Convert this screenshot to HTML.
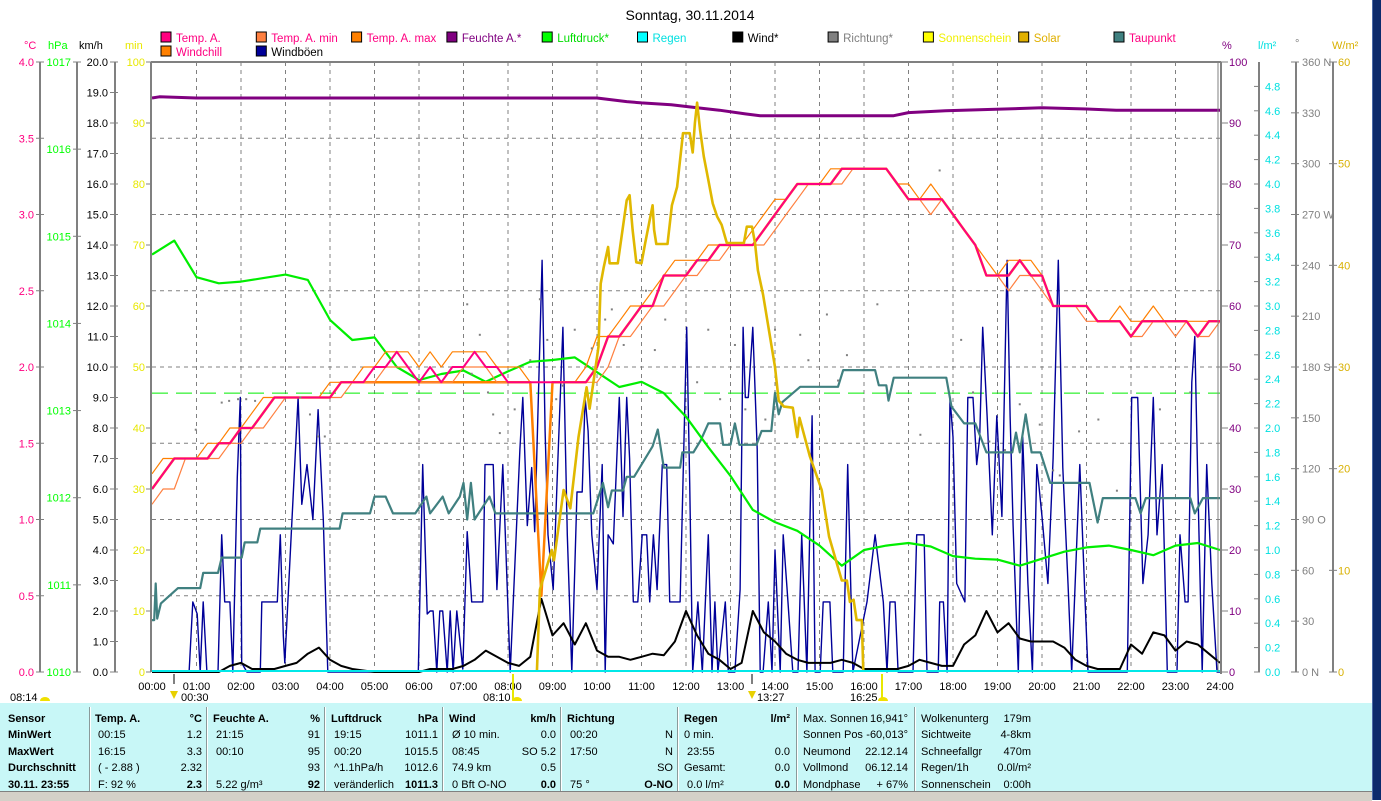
<!DOCTYPE html>
<html><head><meta charset="utf-8"><title>Sonntag, 30.11.2014</title>
<style>
html,body{margin:0;padding:0;background:#fff;}
body{width:1381px;height:800px;position:relative;overflow:hidden;font-family:"Liberation Sans",Arial,sans-serif;}
#chart{position:absolute;left:0;top:0;}
.tbl{position:absolute;left:0;top:703px;width:1372px;height:88px;background:#c8f7f7;}
.col{position:absolute;top:8px;font-size:11px;line-height:16.4px;color:#000;}
.row{display:flex;justify-content:space-between;white-space:nowrap;height:16.4px;}
.b{font-weight:bold;}
.sep{position:absolute;top:4px;width:1px;height:84px;background:#8a9a9a;border-right:1px solid #fff;}
.status{position:absolute;left:0;top:791px;width:1372px;height:9px;background:#d4d0c8;border-top:1px solid #808080;}
.strip{position:absolute;left:1372px;top:0;width:9px;height:800px;background:#0c2a6c;border-left:1px solid #4a6aa8;}
</style></head><body>
<svg id="chart" width="1381" height="800" xmlns="http://www.w3.org/2000/svg"></svg>

<div class="tbl">
  <div class="col b" style="left:8px;width:80px">
    <div class="row"><span>Sensor</span></div><div class="row"><span>MinWert</span></div><div class="row"><span>MaxWert</span></div><div class="row"><span>Durchschnitt</span></div><div class="row"><span>30.11. 23:55</span></div>
  </div>
  <div class="sep" style="left:89px"></div>
  <div class="col" style="left:95px;width:107px">
    <div class="row b"><span>Temp. A.</span><span>°C</span></div><div class="row"><span>&nbsp;00:15</span><span>1.2</span></div><div class="row"><span>&nbsp;16:15</span><span>3.3</span></div><div class="row"><span>&nbsp;( - 2.88 )</span><span>2.32</span></div><div class="row"><span>&nbsp;F: 92 %</span><span class="b">2.3</span></div>
  </div>
  <div class="sep" style="left:206px"></div>
  <div class="col" style="left:213px;width:107px">
    <div class="row b"><span>Feuchte A.</span><span>%</span></div><div class="row"><span>&nbsp;21:15</span><span>91</span></div><div class="row"><span>&nbsp;00:10</span><span>95</span></div><div class="row"><span></span><span>93</span></div><div class="row"><span>&nbsp;5.22 g/m³</span><span class="b">92</span></div>
  </div>
  <div class="sep" style="left:324px"></div>
  <div class="col" style="left:331px;width:107px">
    <div class="row b"><span>Luftdruck</span><span>hPa</span></div><div class="row"><span>&nbsp;19:15</span><span>1011.1</span></div><div class="row"><span>&nbsp;00:20</span><span>1015.5</span></div><div class="row"><span>&nbsp;^1.1hPa/h</span><span>1012.6</span></div><div class="row"><span>&nbsp;veränderlich</span><span class="b">1011.3</span></div>
  </div>
  <div class="sep" style="left:442px"></div>
  <div class="col" style="left:449px;width:107px">
    <div class="row b"><span>Wind</span><span>km/h</span></div><div class="row"><span>&nbsp;Ø 10 min.</span><span>0.0</span></div><div class="row"><span>&nbsp;08:45</span><span>SO 5.2</span></div><div class="row"><span>&nbsp;74.9 km</span><span>0.5</span></div><div class="row"><span>&nbsp;0 Bft O-NO</span><span class="b">0.0</span></div>
  </div>
  <div class="sep" style="left:560px"></div>
  <div class="col" style="left:567px;width:106px">
    <div class="row b"><span>Richtung</span><span></span></div><div class="row"><span>&nbsp;00:20</span><span>N</span></div><div class="row"><span>&nbsp;17:50</span><span>N</span></div><div class="row"><span></span><span>SO</span></div><div class="row"><span>&nbsp;75 °</span><span class="b">O-NO</span></div>
  </div>
  <div class="sep" style="left:677px"></div>
  <div class="col" style="left:684px;width:106px">
    <div class="row b"><span>Regen</span><span>l/m²</span></div><div class="row"><span>0 min.</span><span></span></div><div class="row"><span>&nbsp;23:55</span><span>0.0</span></div><div class="row"><span>Gesamt:</span><span>0.0</span></div><div class="row"><span>&nbsp;0.0 l/m²</span><span class="b">0.0</span></div>
  </div>
  <div class="sep" style="left:796px"></div>
  <div class="col" style="left:803px;width:105px">
    <div class="row"><span>Max. Sonnen</span><span>16,941°</span></div><div class="row"><span>Sonnen Pos</span><span>-60,013°</span></div><div class="row"><span>Neumond</span><span>22.12.14</span></div><div class="row"><span>Vollmond</span><span>06.12.14</span></div><div class="row"><span>Mondphase</span><span>+ 67%</span></div>
  </div>
  <div class="sep" style="left:914px"></div>
  <div class="col" style="left:921px;width:110px">
    <div class="row"><span>Wolkenunterg</span><span>179m</span></div><div class="row"><span>Sichtweite</span><span>4-8km</span></div><div class="row"><span>Schneefallgr</span><span>470m</span></div><div class="row"><span>Regen/1h</span><span>0.0l/m²</span></div><div class="row"><span>Sonnenschein</span><span>0:00h</span></div>
  </div>
</div>
<div class="status"></div>
<div class="strip"></div>

<script>
// ---------- data ----------
const quarterTemp = [1.2,1.3,1.4,1.4, 1.4,1.4,1.5,1.5, 1.6,1.6,1.7,1.8, 1.8,1.8,1.8,1.8, 1.8,1.9,1.9,1.9, 2.0,2.0,2.1,2.0, 1.9,2.0,1.9,2.0, 2.0,2.1,2.0,2.0, 1.9,1.9,1.9,1.9, 1.9,1.9,1.9,1.9, 2.0,2.2,2.2,2.3, 2.4,2.4,2.6,2.6, 2.6,2.7,2.7,2.8, 2.8,2.8,2.8,2.9, 3.0,3.1,3.2,3.2, 3.2,3.2,3.3,3.3, 3.3,3.3,3.3,3.2, 3.1,3.1,3.1,3.1, 3.0,2.9,2.8,2.6, 2.6,2.6,2.7,2.6, 2.6,2.4,2.4,2.4, 2.4,2.3,2.3,2.3, 2.2,2.3,2.3,2.3, 2.3,2.3,2.2,2.3, 2.3];
const quarterTempMin = [1.1,1.2,1.2,1.4, 1.4,1.4,1.4,1.5, 1.5,1.6,1.6,1.7, 1.8,1.8,1.8,1.8, 1.8,1.8,1.9,1.9, 1.9,2.0,2.0,2.0, 1.9,1.9,1.9,1.9, 2.0,2.0,2.0,1.9, 1.9,1.9,1.9,1.9, 1.9,1.9,1.9,1.9, 1.9,2.0,2.2,2.2, 2.3,2.4,2.4,2.5, 2.6,2.6,2.7,2.7, 2.8,2.8,2.8,2.8, 2.9,3.0,3.1,3.2, 3.2,3.2,3.2,3.3, 3.3,3.3,3.3,3.2, 3.1,3.1,3.0,3.1, 3.0,2.9,2.8,2.6, 2.6,2.5,2.6,2.6, 2.5,2.4,2.4,2.4, 2.3,2.3,2.3,2.3, 2.2,2.2,2.3,2.3, 2.2,2.3,2.2,2.2, 2.3];
const quarterTempMax = [1.3,1.4,1.4,1.4, 1.4,1.5,1.5,1.6, 1.6,1.7,1.8,1.8, 1.8,1.8,1.8,1.8, 1.9,1.9,1.9,2.0, 2.0,2.1,2.1,2.1, 2.0,2.1,2.0,2.1, 2.1,2.1,2.1,2.0, 2.0,2.0,1.9,1.9, 1.9,1.9,1.9,2.0, 2.2,2.2,2.3,2.4, 2.4,2.5,2.6,2.7, 2.7,2.7,2.8,2.8, 2.8,2.8,2.9,3.0, 3.1,3.1,3.2,3.2, 3.2,3.3,3.3,3.3, 3.3,3.3,3.3,3.2, 3.2,3.1,3.2,3.1, 3.0,2.9,2.8,2.7, 2.6,2.7,2.7,2.7, 2.6,2.4,2.4,2.4, 2.4,2.3,2.3,2.4, 2.3,2.3,2.4,2.3, 2.3,2.3,2.3,2.3, 2.3];
const quarterWindchill = [1.2,1.3,1.4,1.4, 1.4,1.4,1.5,1.5, 1.6,1.6,1.7,1.8, 1.8,1.8,1.8,1.8, 1.8,1.9,1.9,1.9, 1.9,1.9,1.9,1.9, 1.9,1.9,1.9,1.9, 1.9,1.9,1.9,1.9, 1.9,1.9,1.9,0.5, 1.9,1.9,1.9,1.9, 2.0,2.2,2.2,2.3, 2.4,2.4,2.6,2.6, 2.6,2.7,2.7,2.8, 2.8,2.8,2.8,2.9, 3.0,3.1,3.2,3.2, 3.2,3.2,3.3,3.3, 3.3,3.3,3.3,3.2, 3.1,3.1,3.1,3.1, 3.0,2.9,2.8,2.6, 2.6,2.6,2.7,2.6, 2.6,2.4,2.4,2.4, 2.4,2.3,2.3,2.3, 2.2,2.3,2.3,2.3, 2.3,2.3,2.2,2.3, 2.3];
const quarterWind = [0,0,0,0, 0,0,0,0.2, 0.3,0.1,0.1,0.1, 0.2,0.3,0.6,0.8, 0.4,0.2,0.1,0.05, 0,0,0,0, 0,0.1,0.1,0.1, 0.2,0.4,0.7,0.5, 0.3,0.2,0.5,2.4, 1.2,1.6,0.9,1.6, 0.7,0.5,0.5,0.4, 0.5,0.6,0.55,1.0, 2.0,1.2,0.6,0.4, 0.1,0.3,2.0,1.3, 1.0,0.6,0.4,0.3, 0.3,0.3,0.4,0.3, 0.1,0.1,0.1,0.1, 0.2,0.4,0.3,0.2, 0.2,0.9,1.2,2.0, 1.3,1.6,1.1,1.0, 1.0,1.0,0.8,0.4, 0.2,0.1,0.1,0.1, 0.9,0.6,1.3,1.2, 0.7,1.0,0.9,0.6, 0.3];
const halfHourPressure = [1014.79,1014.95,1014.53,1014.46,1014.48,1014.52,1014.56,1014.50,1014.04,1013.81,1013.84,1013.50,1013.35,1013.42,1013.46,1013.33,1013.45,1013.56,1013.58,1013.61,1013.44,1013.27,1013.33,1013.20,1012.93,1012.58,1012.25,1011.86,1011.72,1011.62,1011.45,1011.22,1011.40,1011.45,1011.48,1011.44,1011.33,1011.30,1011.29,1011.22,1011.30,1011.38,1011.43,1011.45,1011.40,1011.34,1011.45,1011.48,1011.40];
const refPressure = 1013.2;
const humTimes = [0,10,60,600,640,660,700,735,765,800,820,1000,1020,1070,1200,1260,1300,1440];
const humValues = [94.1,94.3,94.1,94.1,93.5,93.3,93.0,92.5,92.1,91.5,91.2,91.2,91.7,92.0,92.5,92.3,92.1,92.1];
const dewTimes = [0,3,5,7,12,35,65,69,89,94,121,125,142,146,253,257,294,300,315,325,355,370,375,392,400,415,420,425,430,435,455,463,595,608,615,620,635,640,650,675,682,690,712,715,730,740,750,766,770,780,786,792,815,822,835,840,845,850,874,925,932,975,980,990,993,1000,1071,1078,1095,1110,1125,1160,1165,1170,1178,1186,1198,1211,1264,1275,1282,1326,1333,1340,1400,1406,1417,1440];
const dewValues = [.34,.34,.58,.35,.45,.55,.55,.65,.65,.75,.75,.85,.85,.94,.94,1.04,1.04,1.15,1.15,1.04,1.04,1.15,1.04,1.15,1.04,1.15,1.24,1.00,1.24,1.00,1.15,1.04,1.04,1.24,1.08,1.19,1.19,1.28,1.28,1.48,1.59,1.34,1.34,1.44,1.44,1.52,1.63,1.63,1.49,1.49,1.63,1.49,1.49,1.58,1.58,1.83,1.69,1.77,1.87,1.87,1.98,1.98,1.88,1.88,1.78,1.93,1.93,1.74,1.63,1.63,1.44,1.44,1.57,1.44,1.69,1.44,1.44,1.24,1.24,0.98,1.14,1.14,1.04,1.14,1.14,1.04,1.14,1.14];
const solarTimes = [519,523,539,542,555,564,575,586,590,602,605,609,615,617,628,640,644,648,653,660,665,675,677,680,695,701,708,716,725,729,732,735,739,744,750,756,762,768,775,798,802,809,813,817,824,840,845,852,864,870,873,887,903,913,930,937,941,946,950,957,959];
const solarValues = [0,8.1,12.0,11.0,17.9,16.1,23.1,28.0,25.9,32.0,38.2,39.8,41.8,40.2,40.2,46.4,46.9,43.5,40.3,40.2,42.2,45.9,43.5,42.1,42.1,45.9,47.7,53.0,53.0,51.1,54.0,56.0,53.3,50.7,48.4,46.1,44.8,44.0,42.2,42.2,43.8,43.8,42.2,39.5,37.1,30.0,26.7,26.1,26.0,23.1,25.0,21.2,17.9,13.3,9.0,9.0,6.9,7.1,5.1,5.1,0];
const gustTimes = [0,50,55,61,65,69,74,89,94,98,105,109,115,119,121,128,146,148,169,173,177,179,197,202,209,217,224,231,237,359,365,371,375,379,384,388,392,398,402,406,411,419,425,431,446,449,460,465,473,479,483,496,500,506,512,516,526,530,534,541,547,554,560,566,573,580,584,588,593,600,607,611,615,622,630,635,640,644,649,655,661,667,671,676,681,688,694,698,712,721,725,729,736,742,750,755,759,763,773,777,786,793,797,800,804,810,816,820,824,831,836,840,847,851,856,864,871,876,883,890,894,901,905,914,918,932,938,945,964,975,986,991,995,1002,1006,1026,1031,1041,1045,1060,1062,1067,1072,1076,1080,1085,1096,1100,1107,1112,1116,1120,1126,1133,1139,1146,1153,1157,1161,1168,1174,1181,1187,1193,1200,1208,1215,1222,1228,1235,1240,1251,1258,1262,1315,1321,1329,1336,1343,1350,1355,1362,1369,1382,1386,1393,1397,1402,1406,1410,1416,1422,1429,1436,1440];
const gustValues = [0,0,2.3,1.9,0,2.3,0,0,4.5,2.3,2.3,0,6.4,9.0,0.3,0,0,2.3,2.3,4.5,1.2,0.3,9.0,5.5,6.8,5.0,8.6,5.0,0,0,6.8,1.9,2.0,2.0,0,2.0,2.0,0,2.0,0,2.0,0.1,4.6,2.3,2.3,6.8,6.8,2.7,6.8,2.7,0,7.3,9.0,4.8,6.7,4.6,13.5,7.9,4.5,2.7,6.8,11.3,4.5,0,5.9,5.9,9.0,7.9,4.5,2.7,6.8,0,4.5,4.2,9.0,5.1,9.0,7.0,2.3,2.3,4.5,4.5,2.3,4.5,2.7,6.8,6.8,2.3,2.3,11.3,6.2,0,2.3,0,4.5,0,2.3,0,2.3,0,0,2.7,11.3,9.0,9.0,11.3,7.3,0,0,2.3,0,4.0,0,4.5,2.8,0,0,4.5,0,8.4,0,0,2.3,2.3,0,0,6.8,0,2.3,4.5,2.3,0,2.3,2.3,0,0,4.5,4.5,0,0,2.3,2.3,0,9.0,7.7,2.9,2.3,9.0,9.0,6.8,7.7,11.3,8.4,4.5,8.4,5.1,13.5,8.4,4.8,0,7.7,2.9,0,6.8,5.1,2.9,7.0,13.5,6.7,2.9,0,6.8,2.4,0,0,9.0,9.0,2.9,4.5,9.0,4.5,6.8,0,0,4.5,2.3,2.3,9.5,11.0,6.2,0,6.8,2.9,0,0];
const dirTimes = [59,94,104,116,127,139,200,213,224,233,425,431,442,453,460,469,489,510,523,533,545,554,570,593,611,620,636,658,666,678,692,735,739,750,766,786,800,827,840,874,885,910,925,937,978,1036,1062,1091,1107,1129,1150,1170,1197,1215,1224,1250,1276,1301,1359,1400];
const dirValues = [143,159,160,161,161,160,162,152,139,139,217,176,199,165,152,141,155,184,220,196,161,169,202,191,208,214,193,243,225,190,208,171,243,202,161,193,155,149,202,199,184,211,172,187,217,140,296,196,165,136,131,158,146,119,116,142,149,107,155,165];
const hourLabels = ['00:00','01:00','02:00','03:00','04:00','05:00','06:00','07:00','08:00','09:00','10:00','11:00','12:00','13:00','14:00','15:00','16:00','17:00','18:00','19:00','20:00','21:00','22:00','23:00','24:00'];
const tempTicks = ['0.0','0.5','1.0','1.5','2.0','2.5','3.0','3.5','4.0'];
const hpaTicks = ['1010','1011','1012','1013','1014','1015','1016','1017'];
const kmhTicks = ['0.0','1.0','2.0','3.0','4.0','5.0','6.0','7.0','8.0','9.0','10.0','11.0','12.0','13.0','14.0','15.0','16.0','17.0','18.0','19.0','20.0'];
const minTicks = ['0','10','20','30','40','50','60','70','80','90','100'];
const pctTicks = ['0','10','20','30','40','50','60','70','80','90','100'];
const rainTicks = ['0.0','0.2','0.4','0.6','0.8','1.0','1.2','1.4','1.6','1.8','2.0','2.2','2.4','2.6','2.8','3.0','3.2','3.4','3.6','3.8','4.0','4.2','4.4','4.6','4.8'];
const degTicks = ['0 N','30','60','90 O','120','150','180 S','210','240','270 W','300','330','360 N'];
const wTicks = ['0','10','20','30','40','50','60'];

// ---------- scales ----------
const L=152, R=1220, T=62, B=672, H=B-T;
const X = m => L + m/1440*(R-L);
const yT = v => B - v/4*H;
const yP = v => B - (v-1010)/7*H;
const yK = v => B - v/20*H;
const yH = v => B - v/100*H;
const yW = v => B - v/60*H;
const yD = v => B - v/360*H;
const yR = v => B - v/5*H;

const NS='http://www.w3.org/2000/svg';
const svg=document.getElementById('chart');
function mk(tag, attrs, name){
  const el=document.createElementNS(NS,tag);
  for(const k in attrs) el.setAttribute(k,attrs[k]);
  
  
  svg.appendChild(el);
  return el;
}
function txt(x,y,s,fill,anchor,name,size,weight){
  const t=mk('text',{x:x,y:y,fill:fill,'text-anchor':anchor||'start','font-size':size||11,'font-family':'Liberation Sans, Arial, sans-serif','font-weight':weight||'normal'},name);
  t.textContent=s;
  return t;
}
function line(x1,y1,x2,y2,stroke,w,name,dash){
  const a={x1:x1,y1:y1,x2:x2,y2:y2,stroke:stroke,'stroke-width':w||1};
  if(dash) a['stroke-dasharray']=dash;
  return mk('line',a,name);
}
function poly(times,vals,yf,stroke,w,name){
  const pts=times.map((t,i)=>X(t).toFixed(1)+','+yf(vals[i]).toFixed(1)).join(' ');
  return mk('polyline',{points:pts,fill:'none',stroke:stroke,'stroke-width':w,'stroke-linejoin':'round'},name);
}
const q = quarterTemp.map((_,i)=>i*15);
const hh = halfHourPressure.map((_,i)=>i*30);

// title
txt(690,20,'Sonntag, 30.11.2014','#000','middle','chart-title',14);

// legend
const legNames=['Temp. A.','Temp. A. min','Temp. A. max','Feuchte A.*','Luftdruck*','Regen','Wind*','Richtung*','Sonnenschein','Solar','Taupunkt','Windchill','Windböen'];
const legFill=['#ff0080','#ff8040','#ff8000','#800080','#00ff00','#00ffff','#000000','#808080','#ffff00','#e0b000','#408080','#ff8000','#000099'];
const legText=['#ff0080','#ff0080','#ff0080','#800080','#00dd00','#00e0e0','#000000','#808080','#f0f000','#e0b000','#ff0080','#ff0080','#000000'];
legNames.forEach((n,i)=>{
  const row=i<11?0:1, col=i<11?i:i-11;
  const x=161+col*95.3, y=row?46:32;
  const r=mk('rect',{x:x,y:y,width:10,height:10,fill:legFill[i],stroke:'#000','stroke-width':1},'legend-swatch');
  
  const t=txt(x+15,y+10,n,legText[i],'start','legend-entry',11.5);
  
});

// axis headers
txt(24,49,'°C','#ff0080','start','temp-axis-title');
txt(48,49,'hPa','#00ff00','start','pressure-axis-title');
txt(79,49,'km/h','#000','start','wind-axis-title');
txt(125,49,'min','#e8e800','start','minutes-axis-title');
txt(1222,49,'%','#800080','start','humidity-axis-title');
txt(1258,49,'l/m²','#00e0e0','start','rain-axis-title');
txt(1295,47,'°','#808080','start','direction-axis-title');
txt(1332,49,'W/m²','#d8b000','start','solar-axis-title');

// grid
for(let h=1;h<24;h++) line(X(h*60),T,X(h*60),B,'#808080',1,'hour-gridline','4,4');
for(let k=1;k<8;k++) line(L,T+k*H/8,R,T+k*H/8,'#808080',1,'horizontal-gridline','4,4');
line(L,yP(refPressure),R,yP(refPressure),'#00ee00',1,'reference-pressure-line','16,8');

// left axes
line(40,T,40,B,'#808080',2,'temp-axis-line');
tempTicks.forEach((s,i)=>{const y=yT(i*0.5);line(36,y,44,y,'#808080',1,'temp-tick');txt(34,y+4,s,'#ff0080','end','temp-tick-label');});
line(77,T,77,B,'#808080',2,'pressure-axis-line');
hpaTicks.forEach((s,i)=>{const y=yP(1010+i);line(73,y,81,y,'#808080',1,'pressure-tick');txt(71,y+4,s,'#00ff00','end','pressure-tick-label');});
line(115,T,115,B,'#808080',2,'wind-axis-line');
kmhTicks.forEach((s,i)=>{const y=yK(i);line(110,y,118,y,'#808080',1,'wind-tick');txt(108,y+4,s,'#000','end','wind-tick-label');});
minTicks.forEach((s,i)=>{const y=B-i*H/10;line(146,y,151,y,'#808080',1,'minutes-tick');txt(145,y+4,s,'#e8e800','end','minutes-tick-label');});

// right axes
pctTicks.forEach((s,i)=>{const y=yH(i*10);line(1221,y,1228,y,'#808080',1,'humidity-tick');txt(1229,y+4,s,'#800080','start','humidity-tick-label');});
line(1259,T,1259,B,'#808080',2,'rain-axis-line');
rainTicks.forEach((s,i)=>{const y=yR(i*0.2);line(1254,y,1260,y,'#808080',1,'rain-tick');txt(1265,y+4,s,'#00e0e0','start','rain-tick-label');});
line(1296,T,1296,B,'#808080',2,'direction-axis-line');
degTicks.forEach((s,i)=>{const y=yD(i*30);line(1291,y,1299,y,'#808080',1,'direction-tick');txt(1302,y+4,s,'#808080','start','direction-tick-label');});
line(1333,T,1333,B,'#808080',2,'solar-axis-line');
wTicks.forEach((s,i)=>{const y=yW(i*10);line(1329,y,1337,y,'#808080',1,'solar-tick');txt(1338,y+4,s,'#d8b000','start','solar-tick-label');});

// x-axis
hourLabels.forEach((s,i)=>{txt(X(i*60),690,s,'#000','middle','x-tick-label');});

// series
poly(gustTimes,gustValues,yK,'#000099',1.4,'wind-gust-line');
poly(q,quarterWind,yK,'#000',2,'wind-average-line');
poly(dewTimes,dewValues,yT,'#408080',2.2,'dewpoint-line');
poly(hh,halfHourPressure,yP,'#00ee00',2.2,'pressure-line');
poly(q,quarterWindchill,yT,'#ff8000',2.5,'windchill-line');
poly(q,quarterTempMin,yT,'#ff8040',1.2,'temp-min-line');
poly(q,quarterTempMax,yT,'#ff8000',1.2,'temp-max-line');
poly(q,quarterTemp,yT,'#ff0080',2,'temp-line');
poly(humTimes,humValues,yH,'#800080',3,'humidity-line');
poly(solarTimes,solarValues,yW,'#e0b800',2.6,'solar-line');
dirTimes.forEach((t,i)=>{mk('rect',{x:X(t)-1,y:yD(dirValues[i])-1,width:2,height:2,fill:'#808080'},'direction-dot');});

// frame
line(L,B-1,R,B-1,'#00e8e8',2,'rain-line');
line(151,T,151,B,'#808080',2,'plot-frame-left');
line(151,T,1221,T,'#808080',2,'plot-frame-top');
line(1218,T,1218,B,'#808080',1,'plot-frame-right-inner');
line(1221,T,1221,B+2,'#808080',2,'plot-frame-right');

// sunrise / sunset markers
line(174,674,174,684,'#808080',2,'moonrise-tick');
line(513,674,513,700,'#e8e800',2,'sunrise-tick');
line(752,674,752,684,'#808080',2,'moonset-tick');
line(882,674,882,700,'#e8e800',2,'sunset-tick');
txt(10,701,'08:14','#000','start','sunrise-label');
mk('path',{d:'M40,701 a5,4 0 0 1 10,0 z',fill:'#f0e000'},'sun-icon');
mk('path',{d:'M170,691 l8,0 l-4,8 z',fill:'#e8d000'},'moon-icon');
txt(181,701,'00:30','#000','start','moonrise-label');
txt(483,701,'08:10','#000','start','sunrise-time-label');
mk('path',{d:'M512,701 a5,4 0 0 1 10,0 z',fill:'#f0e000'},'sun-icon');
mk('path',{d:'M748,691 l8,0 l-4,8 z',fill:'#e8d000'},'moon-icon');
txt(757,701,'13:27','#000','start','moonset-label');
txt(850,701,'16:25','#000','start','sunset-label');
mk('path',{d:'M878,701 a5,4 0 0 1 10,0 z',fill:'#f0e000'},'sun-icon');
</script>
</body></html>
